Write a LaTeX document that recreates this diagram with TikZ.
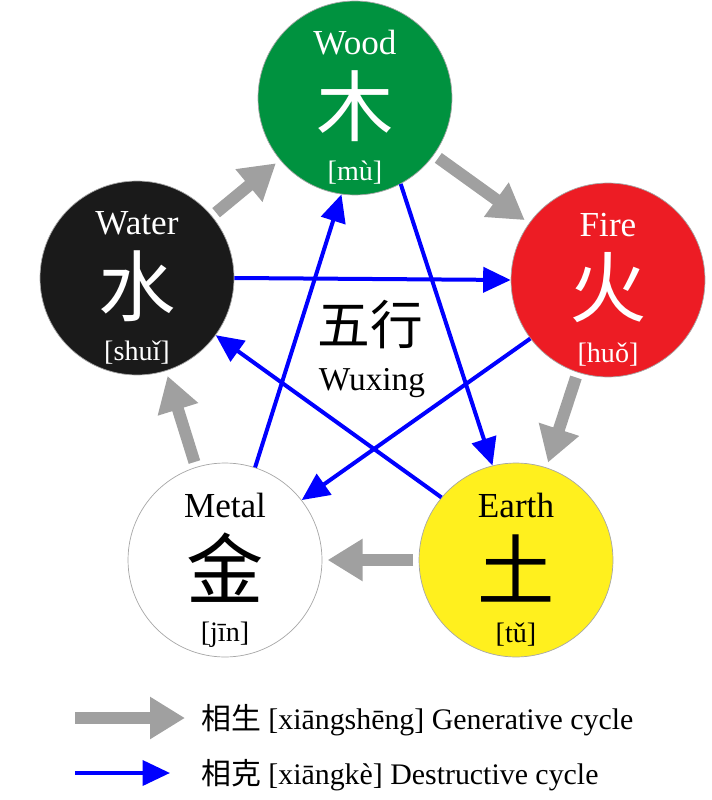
\documentclass[tikz,border=0pt]{standalone}
\usepackage{fontspec}
\setmainfont{Liberation Serif}
\newfontfamily\cjk{Noto Sans CJK SC}
\usetikzlibrary{arrows.meta}
\definecolor{woodgreen}{RGB}{0,146,63}
\definecolor{firered}{RGB}{237,28,36}
\definecolor{earthyellow}{RGB}{255,240,30}
\definecolor{watergrey}{RGB}{26,26,26}
\definecolor{cyclegray}{RGB}{160,160,160}
\definecolor{cycleblue}{RGB}{0,0,255}
\begin{document}
\begin{tikzpicture}[x=0.02cm,y=-0.02cm,
        elem/.style={circle, draw=gray!70, line width=0.4pt, minimum size=3.88cm, inner sep=0pt},
        title/.style={font=\fontsize{20}{20}\selectfont},
        hanzi/.style={font=\cjk\fontsize{44}{44}\selectfont},
        pinyin/.style={font=\fontsize{16}{16}\selectfont},
        gen/.style={-{Triangle[length=0.7cm,width=0.8cm]}, line width=0.24cm, cyclegray},
        des/.style={-{Triangle[length=0.55cm,width=0.5cm]}, line width=0.08cm, cycleblue}
    ]
        \useasboundingbox (0,0) rectangle (711,800);

        % Elements
        \newcommand{\element}[8]{%
            \node[elem, fill=#4] (#1) at (#2,#3) {};
            \path (#1) ++(0,-55) node[title, text=#5] {#6};
            \path (#1) ++(0,8) node[hanzi, text=#5] {#7};
            \path (#1) ++(0,75) node[pinyin, text=#5] {#8};
        }
        \element{wood}{355}{98}{woodgreen}{white}{Wood}{木}{[mù]}
        \element{fire}{608}{280}{firered}{white}{Fire}{火}{[huǒ]}
        \element{earth}{516}{560}{earthyellow}{black}{Earth}{土}{[tǔ]}
        \element{metal}{225}{560}{white}{black}{Metal}{金}{[jīn]}
        \element{water}{137}{278}{watergrey}{white}{Water}{水}{[shuǐ]}

        % Generative cycle
        \draw[gen, shorten <=3pt, shorten >=3pt] (water) -- (wood);
        \draw[gen, shorten <=3pt, shorten >=3pt] (wood) -- (fire);
        \draw[gen, shorten <=3pt, shorten >=3pt] (fire) -- (earth);
        \draw[gen, shorten <=3pt, shorten >=3pt] (earth) -- (metal);
        \draw[gen, shorten <=3pt, shorten >=3pt] (metal) -- (water);

        % Destructive cycle
        \draw[des] (water.0) -- (fire.180);
        \draw[des] (wood.-62) -- (earth.104);
        \draw[des] (earth.140) -- (water.-36);
        \draw[des] (fire.217) -- (metal.38);
        \draw[des] (metal.72) -- (wood.262);

        % Centre
        \node[font=\cjk\fontsize{30}{30}\selectfont] (wuxing) at (370,325) {五行};
        \node[title, font=\fontsize{19}{19}\selectfont] (wuxinglat) at (372,383) {Wuxing};

        % Legend
        \coordinate (g1) at (75,718);
        \coordinate (g2) at (185,718);
        \coordinate (d1) at (75,773);
        \coordinate (d2) at (170,773);
        \draw[gen] (g1) -- (g2);
        \draw[des] (d1) -- (d2);
        \node[anchor=west, font=\fontsize{17}{17}\selectfont] (genlabel) at (195,720) {{\cjk 相生} [xiāngshēng] Generative cycle};
        \node[anchor=west, font=\fontsize{17}{17}\selectfont] (deslabel) at (195,775) {{\cjk 相克} [xiāngkè] Destructive cycle};
\end{tikzpicture}
\end{document}
